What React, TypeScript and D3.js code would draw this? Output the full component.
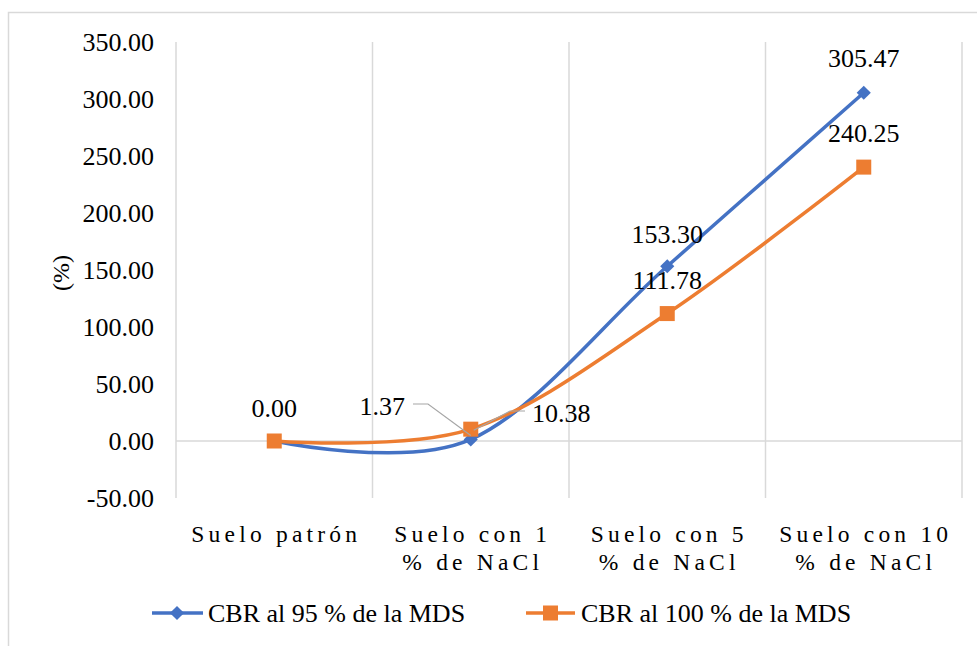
import React from "react";
import * as d3 from "d3";

const categories = [["Suelo patrón"], ["Suelo con 1", "% de NaCl"], ["Suelo con 5", "% de NaCl"], ["Suelo con 10", "% de NaCl"]];
const cbr95 = [0.0, 1.37, 153.3, 305.47];
const cbr100 = [0.0, 10.38, 111.78, 240.25];
const yTicks = [-50, 0, 50, 100, 150, 200, 250, 300, 350];
const seriesNames = ["CBR al 95 % de la MDS", "CBR al 100 % de la MDS"];

const BLUE = "#4472C4";
const ORANGE = "#ED7D31";
const FONT = "Liberation Serif, Times New Roman, Times, DejaVu Serif, serif";

export default function App() {
  const W = 977, H = 646;
  const left = 176, right = 962, top = 42, bottom = 498;
  const x = d3.scaleBand<number>().domain(d3.range(categories.length)).range([left, right]);
  const y = d3.scaleLinear().domain([-50, 350]).range([bottom, top]);
  const cx = (i: number) => (x(i) as number) + x.bandwidth() / 2;
  const line = d3.line<number>().x((_, i) => cx(i)).y((d) => y(d)).curve(d3.curveCardinal.tension(0));

  const gridXs = d3.range(categories.length + 1).map((i) => left + i * x.bandwidth());
  const ts = { fontFamily: FONT } as React.CSSProperties;
  const LBL = 26;

  return (
    <svg width={W} height={H} style={{ position: "absolute", left: 0, top: 0, fontFamily: FONT }}>
      <rect x={0} y={0} width={W} height={H} fill="#fff" />
      <rect x={8.5} y={12.5} width={W + 20} height={H + 20} fill="none" stroke="#d9d9d9" strokeWidth={1.5} />
      {gridXs.map((gx, i) => (
        <line key={"g" + i} x1={gx} x2={gx} y1={top} y2={bottom} stroke="#d9d9d9" strokeWidth={1.5} />
      ))}
      <line x1={left} x2={right} y1={y(0)} y2={y(0)} stroke="#d9d9d9" strokeWidth={1.5} />
      {yTicks.map((t) => (
        <text key={t} x={154} y={y(t)} dy="0.36em" textAnchor="end" style={ts} fontSize={LBL} fill="#000">
          {t.toFixed(2)}
        </text>
      ))}
      <text transform={`translate(60,273) rotate(-90)`} textAnchor="middle" dy="0.36em" style={ts} fontSize={24}>(%)</text>
      {categories.map((lines, i) => (
        <text key={"c" + i} textAnchor="middle" style={ts} fontSize={23.5} letterSpacing={4.2}>
          {lines.map((l, j) => (
            <tspan key={j} x={cx(i) + 2} y={542 + j * 28}>{l}</tspan>
          ))}
        </text>
      ))}
      <path d={line(cbr95) || ""} fill="none" stroke={BLUE} strokeWidth={3.5} strokeLinecap="round" />
      <path d={line(cbr100) || ""} fill="none" stroke={ORANGE} strokeWidth={3.5} strokeLinecap="round" />
      {cbr95.map((v, i) => (
        <rect key={"d" + i} x={cx(i) - 5} y={y(v) - 5} width={10} height={10} fill={BLUE} transform={`rotate(45 ${cx(i)} ${y(v)})`} />
      ))}
      {cbr100.map((v, i) => (
        <rect key={"s" + i} x={cx(i) - 7.5} y={y(v) - 7.5} width={15} height={15} fill={ORANGE} />
      ))}
      <polyline points={`413,404 428,404 ${cx(1)},${y(cbr95[1]) - 4}`} fill="none" stroke="#a6a6a6" strokeWidth={1.2} />
      <polyline points={`525,411 510,411 ${cx(1) + 3},${y(cbr100[1]) + 1}`} fill="none" stroke="#a6a6a6" strokeWidth={1.2} />
      <text x={cx(0)} y={408} dy="0.36em" textAnchor="middle" style={ts} fontSize={LBL}>{cbr95[0].toFixed(2)}</text>
      <text x={405} y={406} dy="0.36em" textAnchor="end" style={ts} fontSize={LBL}>{cbr95[1].toFixed(2)}</text>
      <text x={532} y={413} dy="0.36em" textAnchor="start" style={ts} fontSize={LBL}>{cbr100[1].toFixed(2)}</text>
      <text x={cx(2)} y={y(cbr95[2]) - 33} dy="0.36em" textAnchor="middle" style={ts} fontSize={LBL}>{cbr95[2].toFixed(2)}</text>
      <text x={cx(2)} y={y(cbr100[2]) - 34} dy="0.36em" textAnchor="middle" style={ts} fontSize={LBL}>{cbr100[2].toFixed(2)}</text>
      <text x={cx(3)} y={y(cbr95[3]) - 35} dy="0.36em" textAnchor="middle" style={ts} fontSize={LBL}>{cbr95[3].toFixed(2)}</text>
      <text x={cx(3)} y={y(cbr100[3]) - 34} dy="0.36em" textAnchor="middle" style={ts} fontSize={LBL}>{cbr100[3].toFixed(2)}</text>
      <line x1={152} x2={203} y1={613} y2={613} stroke={BLUE} strokeWidth={3.5} />
      <rect x={172} y={608} width={10} height={10} fill={BLUE} transform="rotate(45 177 613)" />
      <text x={208} y={613} dy="0.36em" style={ts} fontSize={26}>{seriesNames[0]}</text>
      <line x1={526} x2={575} y1={613} y2={613} stroke={ORANGE} strokeWidth={3.5} />
      <rect x={543} y={605.5} width={15} height={15} fill={ORANGE} />
      <text x={581} y={613} dy="0.36em" style={ts} fontSize={26}>{seriesNames[1]}</text>
    </svg>
  );
}
